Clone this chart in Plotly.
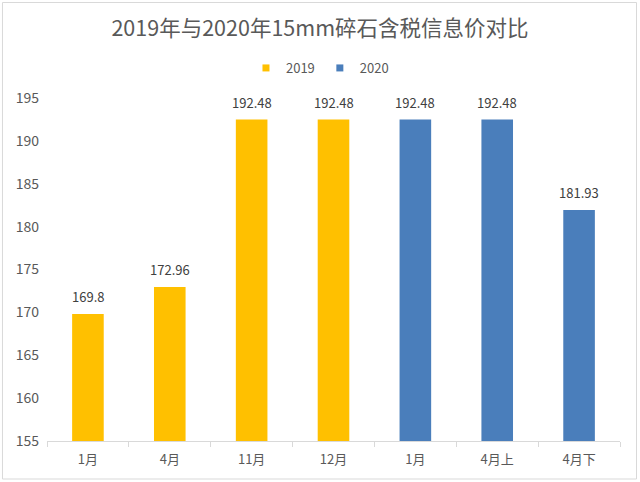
import plotly.graph_objects as go

categories = ["1月", "4月", "11月", "12月", "1月", "4月上", "4月下"]
values_2019 = [169.8, 172.96, 192.48, 192.48]
values_2020 = [192.48, 192.48, 181.93]
labels_2019 = ["169.8", "172.96", "192.48", "192.48"]
labels_2020 = ["192.48", "192.48", "181.93"]
y_ticks = [155, 160, 165, 170, 175, 180, 185, 190, 195]

COLOR_2019 = "#FFC000"
COLOR_2020 = "#4A7EBB"
FONT = "Noto Sans CJK SC"

x_2019 = list(range(len(values_2019)))
x_2020 = list(range(len(values_2019), len(values_2019) + len(values_2020)))

fig = go.Figure()
fig.add_trace(go.Bar(x=x_2019, y=values_2019, marker_color=COLOR_2019,
                     marker_line_width=0, showlegend=False, name="2019"))
fig.add_trace(go.Bar(x=x_2020, y=values_2020, marker_color=COLOR_2020,
                     marker_line_width=0, showlegend=False, name="2020"))
# legend proxies (small squares)
fig.add_trace(go.Scatter(x=[None], y=[None], mode="markers", name="2019",
                         marker=dict(symbol="square", size=7, color=COLOR_2019)))
fig.add_trace(go.Scatter(x=[None], y=[None], mode="markers", name="2020",
                         marker=dict(symbol="square", size=7, color=COLOR_2020)))

annotations = []
for xs, vs, ls in ((x_2019, values_2019, labels_2019), (x_2020, values_2020, labels_2020)):
    for xv, yv, lab in zip(xs, vs, ls):
        annotations.append(dict(x=xv, y=yv, text=lab, showarrow=False,
                                xref="x", yref="y", yanchor="bottom", yshift=6,
                                font=dict(family=FONT, size=13, color="#404040")))

fig.update_layout(
    width=640, height=482,
    margin=dict(l=47, r=20, t=98, b=41),
    paper_bgcolor="white", plot_bgcolor="white",
    barmode="overlay", bargap=0.614,
    font=dict(family=FONT, size=13, color="#595959"),
    title=dict(text="2019年与2020年15mm碎石含税信息价对比", x=0.5, xanchor="center",
               y=0.94, yanchor="middle", yref="container",
               font=dict(family=FONT, size=21.5, color="#595959")),
    legend=dict(orientation="h", x=0.4764, xanchor="center", y=1.0875, yanchor="middle",
                font=dict(family=FONT, size=13, color="#595959"),
                itemwidth=30, tracegroupgap=0, bgcolor="rgba(0,0,0,0)"),
    annotations=annotations,
    shapes=[dict(type="rect", xref="paper", yref="paper",
                 x0=-0.0777, x1=1.0288, y0=-0.1108, y1=1.2784,
                 line=dict(color="#D9D9D9", width=1), fillcolor="rgba(0,0,0,0)",
                 layer="below")],
)
fig.update_xaxes(
    range=[-0.5, len(categories) - 0.5],
    tickmode="array", tickvals=list(range(len(categories))), ticktext=categories,
    ticks="", showgrid=False, zeroline=False,
    showline=True, linecolor="#D9D9D9", linewidth=1,
    ticklabelstandoff=6,
    tickfont=dict(family=FONT, size=13, color="#595959"),
    minor=dict(tickmode="array", tickvals=[i - 0.5 for i in range(len(categories) + 1)],
               ticks="outside", ticklen=5, tickcolor="#D9D9D9", tickwidth=1, showgrid=False),
)
fig.update_yaxes(
    range=[155, 195], tickmode="array", tickvals=y_ticks,
    showgrid=False, zeroline=False, showline=False, ticks="", ticklen=0,
    ticklabelstandoff=7,
    tickfont=dict(family=FONT, size=14, color="#595959"),
)

fig.write_html("out.html", config={"displayModeBar": False},
               post_script="document.body.style.margin='0';document.body.style.overflow='hidden';")
